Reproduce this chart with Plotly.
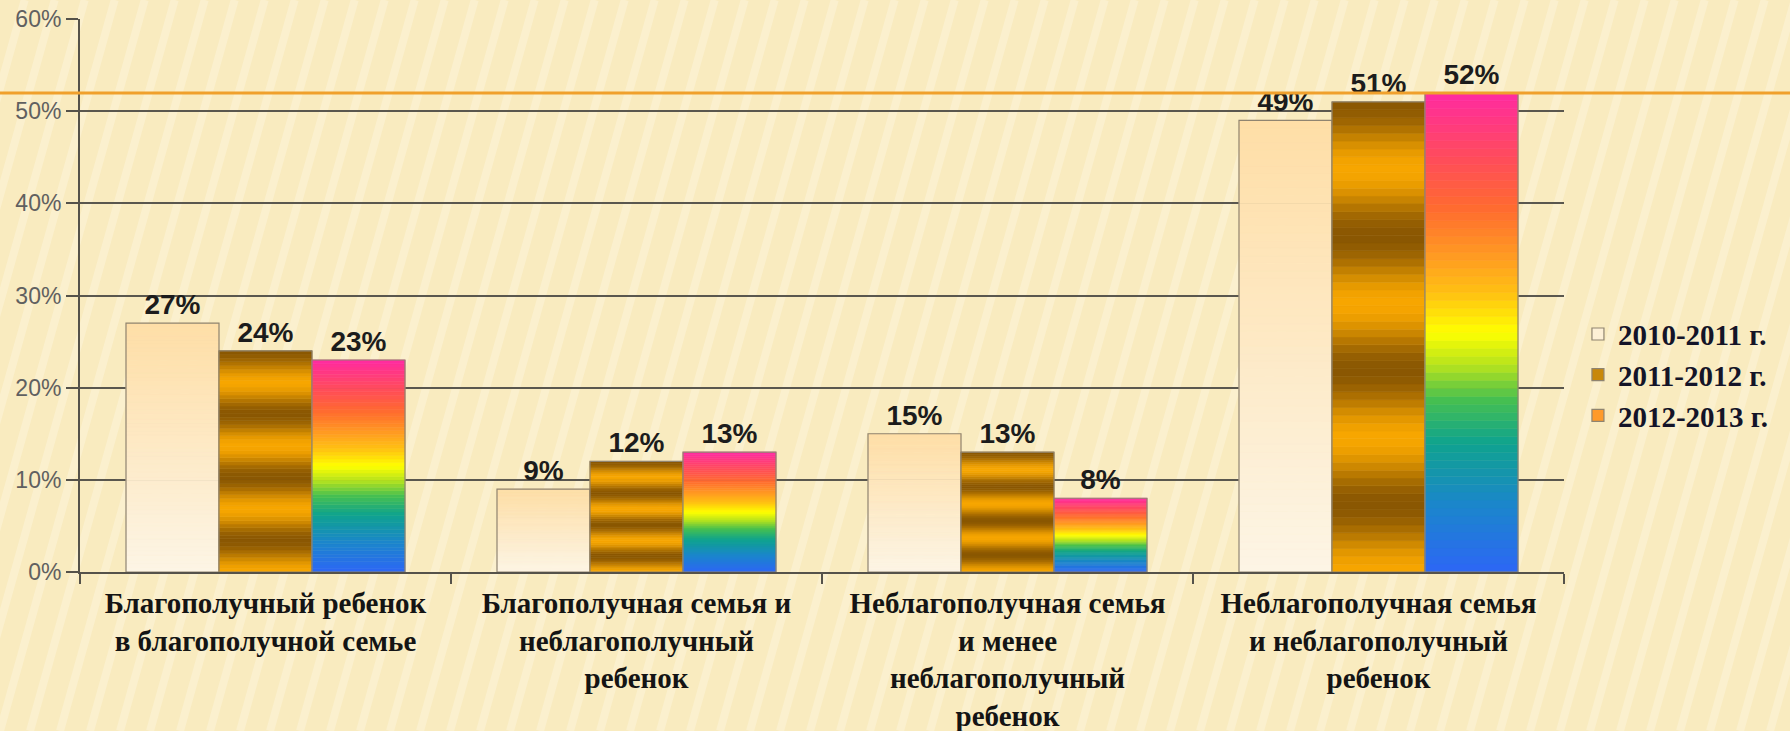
import plotly.graph_objects as go
import math

categories = [
    "Благополучный ребенок<br>в благополучной семье",
    "Благополучная семья и<br>неблагополучный<br>ребенок",
    "Неблагополучная семья<br>и менее<br>неблагополучный<br>ребенок",
    "Неблагополучная семья<br>и неблагополучный<br>ребенок",
]
series_names = ["2010-2011 г.", "2011-2012 г.", "2012-2013 г."]
values_2010_2011 = [27, 9, 15, 49]
values_2011_2012 = [24, 12, 13, 51]
values_2012_2013 = [23, 13, 8, 52]
series_values = [values_2010_2011, values_2011_2012, values_2012_2013]
y_ticks = [0, 10, 20, 30, 40, 50, 60]


def hex2rgb(h):
    h = h.lstrip("#")
    return tuple(int(h[i:i + 2], 16) for i in (0, 2, 4))


def lerp(c1, c2, t):
    a, b = hex2rgb(c1), hex2rgb(c2)
    return "rgb(%d,%d,%d)" % tuple(round(a[i] + (b[i] - a[i]) * t) for i in range(3))


def stops_color(stops, f):
    for (f0, c0), (f1, c1) in zip(stops, stops[1:]):
        if f <= f1:
            return lerp(c0, c1, (f - f0) / (f1 - f0) if f1 > f0 else 0)
    return lerp(stops[-1][1], stops[-1][1], 0)


def cream(f):
    return lerp("#fdf5e6", "#fedea6", f)


def gold(f):
    t = 0.5 + 0.5 * math.cos(2 * math.pi * 3.5 * f)
    return lerp("#8a5702", "#f7a600", t)


rainbow_stops = [
    (0.0, "#2d66f5"), (0.14, "#1b86cc"), (0.27, "#0fa38e"), (0.36, "#46c050"),
    (0.43, "#b4e21e"), (0.5, "#ffff00"), (0.58, "#ffc212"), (0.66, "#ff9a22"),
    (0.76, "#ff6a30"), (0.87, "#ff4a5e"), (1.0, "#ff2aa2"),
]


def rainbow(f):
    return stops_color(rainbow_stops, f)


color_funcs = [cream, gold, rainbow]
legend_colors = ["#fdf0d6", "#c8880a", "#ff9a2a"]

N = 60
fig = go.Figure()

for k, (name, vals) in enumerate(zip(series_names, series_values)):
    cf = color_funcs[k]
    # legend entry (no visible bars)
    fig.add_trace(go.Bar(
        x=categories,
        y=[None] * len(vals),
        offsetgroup=str(k),
        marker=dict(color=legend_colors[k], line=dict(color="#8f8470", width=1.2)),
        name=name,
        legendgroup=name,
        legendrank=k + 1,
        showlegend=True,
        hoverinfo="skip",
    ))
    for j in range(N):
        col = cf((j + 0.5) / N)
        fig.add_trace(go.Bar(
            x=categories,
            y=[v / N for v in vals],
            base=[v * j / N for v in vals],
            offsetgroup=str(k),
            marker=dict(color=col, line=dict(color=col, width=0.6)),
            name=name,
            legendgroup=name,
            showlegend=False,
            hoverinfo="skip",
        ))
    # outline + value labels
    fig.add_trace(go.Bar(
        x=categories,
        y=vals,
        offsetgroup=str(k),
        marker=dict(color="rgba(0,0,0,0)", line=dict(color="#8f8470", width=1.2)),
        text=[f"{v}%" for v in vals],
        textposition="outside",
        textfont=dict(family="Liberation Sans, Arial", size=28, color="#1c1c1c", weight="bold"),
        cliponaxis=False,
        name=name,
        legendgroup=name,
        showlegend=False,
    ))

# background stripes (decoration)
shapes = []
L, R, T, B = 80, 226, 19, 159
W, H = 1790, 731
pw, ph = W - L - R, H - T - B
for i in range(-12, 64):
    px0 = i * 30
    px1 = px0 + 0.28 * H
    shapes.append(dict(
        type="line", xref="paper", yref="paper", layer="below",
        x0=(px0 - L) / pw, y0=-(B) / ph,
        x1=(px1 - L) / pw, y1=(H - B) / ph,
        line=dict(color="rgba(255,251,232,0.38)", width=8),
    ))
# orange decorative line
shapes.append(dict(
    type="line", xref="paper", yref="paper", layer="above",
    x0=-L / pw, x1=(W - L) / pw,
    y0=(H - B - 93) / ph, y1=(H - B - 93) / ph,
    line=dict(color="#f0a02c", width=3),
))

fig.update_layout(
    width=W, height=H,
    margin=dict(l=L, r=R, t=T, b=B, autoexpand=False),
    paper_bgcolor="#f9ebbf",
    plot_bgcolor="rgba(0,0,0,0)",
    barmode="group",
    bargap=0.248,
    bargroupgap=0,
    shapes=shapes,
    legend=dict(
        x=1.0094, xanchor="left", y=0.356, yanchor="middle",
        font=dict(family="Liberation Serif, Times New Roman", size=29, color="#141428", weight="bold"),
        bgcolor="rgba(0,0,0,0)", traceorder="normal", itemclick=False,
        tracegroupgap=0,
    ),
    showlegend=True,
)
fig.update_xaxes(
    showline=True, linecolor="#55524a", linewidth=2,
    ticks="outside", tickson="boundaries", ticklen=10, tickcolor="#55524a", tickwidth=2,
    tickfont=dict(family="Liberation Serif, Times New Roman", size=29, color="#141414", weight="bold"),
    ticklabelstandoff=4,
    showgrid=False,
)
fig.update_yaxes(
    range=[0, 60], tickvals=y_ticks, ticktext=[f"{t}%" for t in y_ticks],
    showgrid=True, gridcolor="#5a574e", gridwidth=2,
    showline=True, linecolor="#55524a", linewidth=2,
    ticks="outside", ticklen=12, tickcolor="#55524a", tickwidth=2,
    tickfont=dict(family="Liberation Sans, Arial", size=23, color="#606060"),
    zeroline=False,
)

fig.write_html("out.html")
